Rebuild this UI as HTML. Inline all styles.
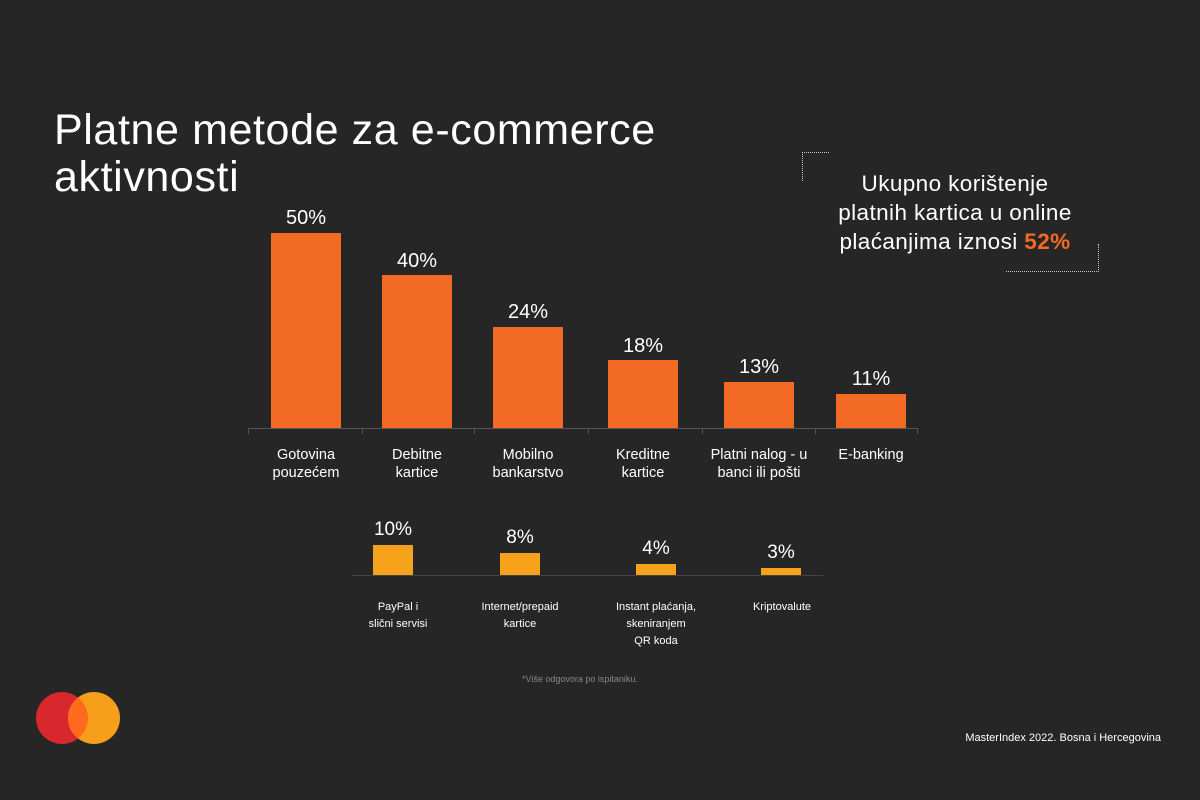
<!DOCTYPE html>
<html><head><meta charset="utf-8"><style>
body{margin:0;width:1200px;height:800px;background:#262626;font-family:"Liberation Sans","DejaVu Sans",sans-serif;color:#fff;overflow:hidden;position:relative}
.a{position:absolute}
.bar{position:absolute;background:#f26a24}
.sb{position:absolute;background:#f7a21b}
.v{position:absolute;text-align:center;font-size:20px;width:120px}
.sv{position:absolute;text-align:center;font-size:19px;width:120px}
.l{position:absolute;text-align:center;font-size:14.5px;line-height:18px;width:130px}
.sl{position:absolute;text-align:center;font-size:11px;line-height:17px;width:130px}
.t{position:absolute;top:428px;width:1px;height:6px;background:#555}
</style></head><body>
<div class="a" style="left:54px;top:107px;font-size:43px;line-height:47px;letter-spacing:0.6px">Platne metode za e-commerce<br>aktivnosti</div>

<div class="a" style="left:802px;top:152px;width:26px;height:28px;border-left:1px dotted #ccc;border-top:1px dotted #ccc"></div>
<div class="a" style="left:1006px;top:244px;width:92px;height:27px;border-right:1px dotted #ccc;border-bottom:1px dotted #ccc"></div>
<div class="a" style="left:790px;top:169px;width:330px;text-align:center;font-size:22.5px;line-height:29px;letter-spacing:0.4px">Ukupno korištenje<br>platnih kartica u online<br>plaćanjima iznosi <b style="color:#f26a24">52%</b></div>

<div class="a" style="left:248px;top:428px;width:670px;height:1px;background:#555"></div>
<div class="t" style="left:248px"></div><div class="t" style="left:362px"></div><div class="t" style="left:474px"></div><div class="t" style="left:588px"></div><div class="t" style="left:702px"></div><div class="t" style="left:815px"></div><div class="t" style="left:917px"></div>
<div class="bar" style="left:271px;top:233px;width:70px;height:195px"></div>
<div class="bar" style="left:382px;top:275px;width:70px;height:153px"></div>
<div class="bar" style="left:493px;top:327px;width:70px;height:101px"></div>
<div class="bar" style="left:608px;top:360px;width:70px;height:68px"></div>
<div class="bar" style="left:724px;top:382px;width:70px;height:46px"></div>
<div class="bar" style="left:836px;top:394px;width:70px;height:34px"></div>
<div class="v" style="left:246px;top:207px">50%</div>
<div class="v" style="left:357px;top:250px">40%</div>
<div class="v" style="left:468px;top:301px">24%</div>
<div class="v" style="left:583px;top:335px">18%</div>
<div class="v" style="left:699px;top:356px">13%</div>
<div class="v" style="left:811px;top:368px">11%</div>
<div class="l" style="left:241px;top:446px">Gotovina<br>pouzećem</div>
<div class="l" style="left:352px;top:446px">Debitne<br>kartice</div>
<div class="l" style="left:463px;top:446px">Mobilno<br>bankarstvo</div>
<div class="l" style="left:578px;top:446px">Kreditne<br>kartice</div>
<div class="l" style="left:694px;top:446px">Platni nalog - u<br>banci ili pošti</div>
<div class="l" style="left:806px;top:446px">E-banking</div>

<div class="a" style="left:352px;top:575px;width:471px;height:1px;background:#444"></div>
<div class="sb" style="left:373px;top:545px;width:40px;height:30px"></div>
<div class="sb" style="left:500px;top:553px;width:40px;height:22px"></div>
<div class="sb" style="left:636px;top:564px;width:40px;height:11px"></div>
<div class="sb" style="left:761px;top:568px;width:40px;height:7px"></div>
<div class="sv" style="left:333px;top:519px">10%</div>
<div class="sv" style="left:460px;top:527px">8%</div>
<div class="sv" style="left:596px;top:538px">4%</div>
<div class="sv" style="left:721px;top:542px">3%</div>
<div class="sl" style="left:333px;top:599px">PayPal i<br>slični servisi</div>
<div class="sl" style="left:455px;top:599px">Internet/prepaid<br>kartice</div>
<div class="sl" style="left:591px;top:599px">Instant plaćanja,<br>skeniranjem<br>QR koda</div>
<div class="sl" style="left:717px;top:599px">Kriptovalute</div>
<div class="a" style="left:480px;top:674px;width:200px;text-align:center;font-size:9px;color:#888">*Više odgovora po ispitaniku.</div>

<div class="a" style="left:36px;top:692px;width:52px;height:52px;border-radius:50%;background:#d9272e"></div>
<div class="a" style="left:68px;top:692px;width:52px;height:52px;border-radius:50%;background:#f79e1b"></div>
<div class="a" style="left:68px;top:692px;width:52px;height:52px;border-radius:50%;overflow:hidden"><div style="position:absolute;left:-32px;top:0;width:52px;height:52px;border-radius:50%;background:#ff6a1f"></div></div>

<div class="a" style="left:880px;top:732px;width:281px;text-align:right;font-size:11px">MasterIndex 2022. Bosna i Hercegovina</div>
</body></html>
